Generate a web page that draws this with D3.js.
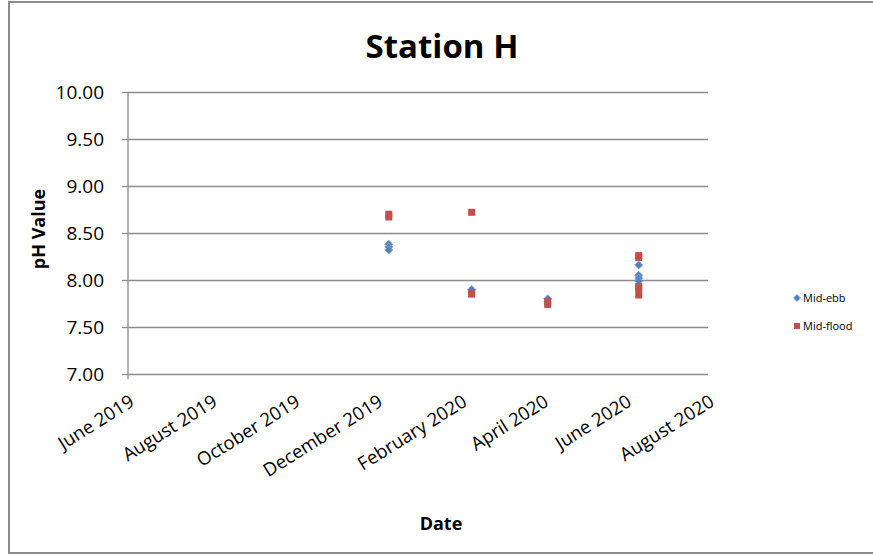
<!DOCTYPE html>
<html>
<head>
<meta charset="utf-8">
<script src="https://cdn.jsdelivr.net/npm/d3@7"></script>
<style>
  body { margin: 0; background: #fff; }
  text { font-family: "Open Sans", Lato, sans-serif; fill: #000; }
</style>
</head>
<body>
<svg id="chart" width="873" height="555"></svg>
<script>
// sample dates
const ebbDates = ["2019-12-10", "2019-12-10", "2019-12-10", "2020-02-09", "2020-04-05",
  "2020-06-11", "2020-06-11", "2020-06-11", "2020-06-11"]
const ebbValues = [8.38, 8.35, 8.32, 7.90, 7.80, 8.16, 8.05, 8.02, 7.99]

const floodDates = ["2019-12-10", "2019-12-10", "2020-02-09", "2020-02-09", "2020-02-09",
  "2020-04-05", "2020-04-05", "2020-06-11", "2020-06-11", "2020-06-11", "2020-06-11", "2020-06-11"]
const floodValues = [8.70, 8.67, 8.72, 7.86, 7.85, 7.77, 7.74, 8.26, 8.24, 7.93, 7.91, 7.84]

const yTicks = [7.0, 7.5, 8.0, 8.5, 9.0, 9.5, 10.0]
const xTickDates = ["2019-06-01", "2019-08-01", "2019-10-01", "2019-12-01",
  "2020-02-01", "2020-04-01", "2020-06-01", "2020-08-01"]

const parse = d3.timeParse("%Y-%m-%d")
const fmt = d3.timeFormat("%B %Y")

const svg = d3.select("#chart")

// outer frame
svg.append("rect")
  .attr("x", 9).attr("y", 2).attr("width", 900).attr("height", 551)
  .attr("fill", "#fff").attr("stroke", "#8c8c8c").attr("stroke-width", 2)

const plotL = 128, plotR = 708, plotT = 92, plotB = 374

const x = d3.scaleTime()
  .domain([parse(xTickDates[0]), parse(xTickDates[xTickDates.length - 1])])
  .range([plotL, plotR])
const y = d3.scaleLinear().domain([7, 10]).range([plotB, plotT])

// gridlines + y axis
const yAxis = d3.axisLeft(y).tickValues(yTicks).tickFormat(d3.format(".2f"))
  .tickSize(-(plotR - plotL)).tickPadding(24)
const gy = svg.append("g").attr("transform", `translate(${plotL},0)`).call(yAxis)
gy.select(".domain").remove()
gy.selectAll(".tick line").attr("stroke", "#8c8c8c").attr("stroke-width", 1.3)
gy.selectAll(".tick text").attr("font-size", 19).attr("fill", "#000")
// small outside ticks
gy.selectAll(".tick").append("line")
  .attr("x1", -6).attr("x2", 0).attr("stroke", "#8c8c8c").attr("stroke-width", 1.3)

svg.append("line").attr("x1", plotL).attr("x2", plotL).attr("y1", plotT).attr("y2", plotB + 5)
  .attr("stroke", "#8c8c8c").attr("stroke-width", 1.3)

// x axis
const xAxis = d3.axisBottom(x).tickValues(xTickDates.map(parse)).tickFormat(fmt)
  .tickSize(0).tickPadding(0)
const gx = svg.append("g").attr("transform", `translate(0,${plotB})`).call(xAxis)
gx.select(".domain").remove()
gx.selectAll(".tick text")
  .attr("font-size", 18.5)
  .attr("text-anchor", "end")
  .attr("dy", 0).attr("y", 0)
  .attr("transform", "translate(7,31) rotate(-32)")

// series
const ebb = ebbDates.map((d, i) => ({ date: parse(d), v: ebbValues[i] }))
const flood = floodDates.map((d, i) => ({ date: parse(d), v: floodValues[i] }))

svg.append("g").selectAll("path").data(ebb).join("path")
  .attr("d", d3.symbol(d3.symbolDiamond2, 40))
  .attr("transform", d => `translate(${x(d.date)},${y(d.v)})`)
  .attr("fill", "#4f81bd").attr("stroke", "#7ca3d4").attr("stroke-width", 1)

svg.append("g").selectAll("rect").data(flood).join("rect")
  .attr("x", d => x(d.date) - 3.5).attr("y", d => y(d.v) - 3.5)
  .attr("width", 7).attr("height", 7)
  .attr("fill", "#c0504d")

// titles
svg.append("text").attr("x", 442).attr("y", 58).attr("text-anchor", "middle")
  .attr("font-size", 33).attr("font-weight", "bold").text("Station H")
svg.append("text").attr("x", 441).attr("y", 530).attr("text-anchor", "middle")
  .attr("font-size", 18).attr("font-weight", "bold").text("Date")
svg.append("text").attr("transform", "translate(45,229) rotate(-90)").attr("text-anchor", "middle")
  .attr("font-size", 18).attr("font-weight", "bold").text("pH Value")

// legend
const legend = svg.append("g").attr("transform", "translate(797,298)")
legend.append("path").attr("d", d3.symbol(d3.symbolDiamond2, 30))
  .attr("fill", "#4f81bd").attr("stroke", "#7ca3d4")
legend.append("text").attr("x", 6).attr("y", 4).attr("font-size", 11).text("Mid-ebb")
legend.append("rect").attr("x", -3).attr("y", 25).attr("width", 6).attr("height", 6).attr("fill", "#c0504d")
legend.append("text").attr("x", 6).attr("y", 32).attr("font-size", 11).text("Mid-flood")
</script>
</body>
</html>
